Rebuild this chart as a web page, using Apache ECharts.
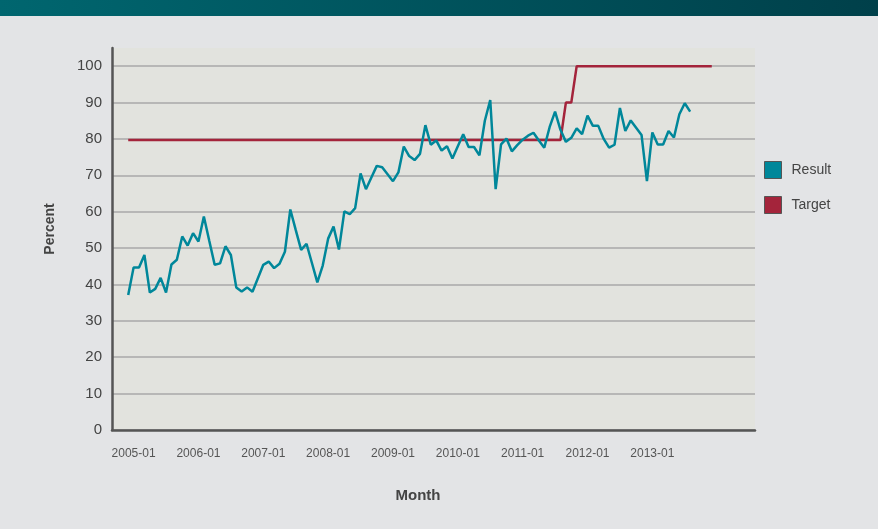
<!DOCTYPE html>
<html lang="en">
<head>
    <meta charset="UTF-8">
    <title>Result vs Target</title>
    <script src="https://cdn.jsdelivr.net/npm/echarts@6/dist/echarts.min.js"></script>
    <style>
        html, body { margin: 0; padding: 0; background: #e3e4e6; }
        #chart { width: 878px; height: 529px; }
    </style>
</head>
<body>
    <div id="chart"></div>

    <script>
        // axis range: monthly categories, with a little room on both sides
        var axisStart = '2004-09';
        var axisMonths = 120;
        var tickLabels = ['2005-01', '2006-01', '2007-01', '2008-01', '2009-01',
                          '2010-01', '2011-01', '2012-01', '2013-01'];

        // Result: one value per month from 2004-12 to 2013-08
        var resultStart = '2004-12';
        var resultValues = [
            37.1, 44.7, 44.7, 48.1, 37.8, 38.8, 41.8, 37.8, 45.5, 46.8,
            53.2, 50.7, 54.1, 51.8, 58.7, 52.0, 45.4, 45.8, 50.5, 48.1,
            39.2, 38.1, 39.2, 38.0, 41.7, 45.4, 46.3, 44.5, 45.7, 49.0,
            60.6, 55.0, 49.5, 51.2, 45.9, 40.6, 45.2, 52.6, 55.9, 49.6,
            60.1, 59.3, 61.0, 70.5, 66.2, 69.4, 72.6, 72.2, 70.3, 68.4,
            70.8, 77.9, 75.3, 74.2, 75.9, 83.8, 78.4, 79.6, 76.8, 78.0,
            74.6, 78.0, 81.3, 77.8, 77.8, 75.5, 85.0, 90.7, 66.2, 78.5,
            80.1, 76.6, 78.3, 79.8, 80.9, 81.7, 79.6, 77.6, 83.3, 87.5,
            82.5, 79.2, 80.3, 82.9, 81.3, 86.4, 83.6, 83.6, 80.0, 77.6,
            78.4, 88.5, 82.2, 85.1, 83.1, 81.1, 68.4, 81.8, 78.5, 78.5,
            82.2, 80.4, 86.8, 89.8, 87.5
        ];

        // Target: step changes only
        var targetMonths = ['2004-12', '2011-08', '2011-09', '2011-10', '2011-11', '2013-12'];
        var targetValues = [79.7, 79.7, 90, 90, 100, 100];

        function monthList(start, count) {
            var y = parseInt(start.slice(0, 4), 10);
            var m = parseInt(start.slice(5, 7), 10) - 1;
            var out = [];
            for (var i = 0; i < count; i++) {
                var yy = y + Math.floor((m + i) / 12);
                var mm = (m + i) % 12 + 1;
                out.push(yy + '-' + (mm < 10 ? '0' + mm : mm));
            }
            return out;
        }

        var categories = monthList(axisStart, axisMonths);
        var resultMonths = monthList(resultStart, resultValues.length);

        var font = "'Liberation Sans', Arial, sans-serif";
        var teal = '#00879a';
        var red = '#a4243b';

        var chart = echarts.init(document.getElementById('chart'));

        chart.setOption({
            backgroundColor: '#e3e4e6',
            animation: false,
            textStyle: { fontFamily: font },
            graphic: [{
                type: 'rect',
                left: 0, top: 0,
                shape: { width: 878, height: 16 },
                style: {
                    fill: new echarts.graphic.LinearGradient(0, 0, 1, 0, [
                        { offset: 0, color: '#00666f' },
                        { offset: 1, color: '#00404a' }
                    ])
                }
            }],
            legend: {
                orient: 'vertical',
                left: 764,
                top: 161,
                padding: 0,
                itemWidth: 17,
                itemHeight: 17,
                itemGap: 17,
                icon: 'rect',
                data: ['Result', 'Target'],
                itemStyle: { borderColor: '#555', borderWidth: 1 },
                textStyle: { color: '#444', fontSize: 14, fontFamily: font, padding: [0, 0, 0, 5] }
            },
            grid: {
                left: 112,
                top: 48,
                width: 643,
                height: 382,
                show: true,
                backgroundColor: '#e2e3de',
                borderWidth: 0
            },
            xAxis: {
                type: 'category',
                data: categories,
                boundaryGap: false,
                name: 'Month',
                nameLocation: 'middle',
                nameGap: 58,
                nameTextStyle: {
                    color: '#444', fontSize: 15, fontWeight: 'bold', fontFamily: font,
                    padding: [0, 31, 0, 0]
                },
                axisLine: { lineStyle: { color: '#555', width: 2.5 } },
                axisTick: { show: false },
                axisLabel: {
                    interval: function (i, v) { return tickLabels.indexOf(v) >= 0; },
                    margin: 18,
                    color: '#555',
                    fontSize: 12,
                    fontFamily: font
                },
                splitLine: { show: false }
            },
            yAxis: {
                type: 'value',
                min: 0,
                max: 105,
                interval: 10,
                name: 'Percent',
                nameLocation: 'middle',
                nameGap: 55,
                nameTextStyle: {
                    color: '#444', fontSize: 14, fontWeight: 'bold', fontFamily: font,
                    padding: [0, 0, 0, 20]
                },
                axisLine: { show: true, lineStyle: { color: '#555', width: 2.5 } },
                axisTick: { show: false },
                axisLabel: {
                    margin: 10,
                    color: '#444',
                    fontSize: 15,
                    fontFamily: font,
                    showMaxLabel: false
                },
                splitLine: {
                    showMaxLine: false,
                    lineStyle: { color: '#a9a9a9', width: 1.5 }
                }
            },
            series: [
                {
                    name: 'Target',
                    type: 'line',
                    data: targetMonths.map(function (m, i) { return [m, targetValues[i]]; }),
                    symbol: 'none',
                    color: red,
                    lineStyle: { width: 2.5, color: red }
                },
                {
                    name: 'Result',
                    type: 'line',
                    data: resultMonths.map(function (m, i) { return [m, resultValues[i]]; }),
                    symbol: 'none',
                    color: teal,
                    lineStyle: { width: 2.5, color: teal }
                }
            ]
        });
    </script>
</body>
</html>
